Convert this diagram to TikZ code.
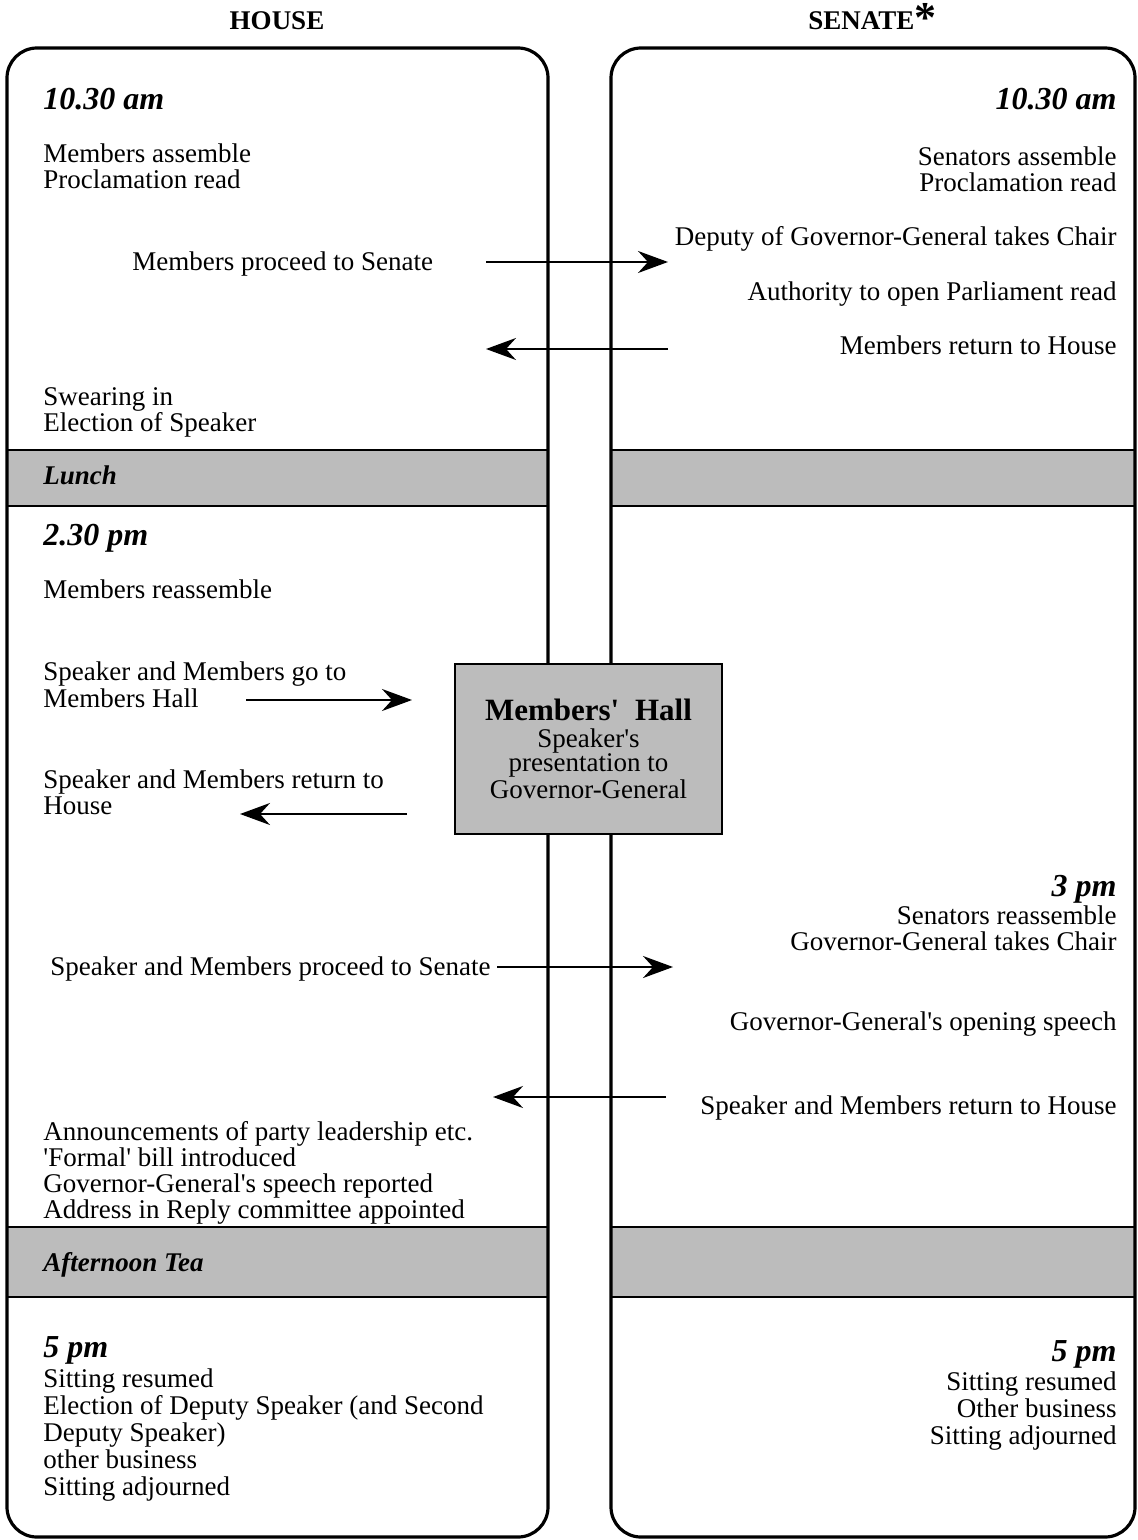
\documentclass[tikz,border=0pt]{standalone}
\usepackage{fontspec}
\setmainfont{Liberation Serif}
\usetikzlibrary{arrows.meta}
\definecolor{bandgray}{RGB}{188,188,188}
\newcommand\ftxt{\fontsize{13.5}{13}\selectfont}
\newcommand\ftim{\fontsize{16}{16}\selectfont\bfseries\itshape}
\newcommand\fband{\fontsize{13.5}{13}\selectfont\bfseries\itshape}
\newcommand\fhead{\fontsize{13.5}{13}\selectfont\bfseries}
\newcommand\apo{\textquotesingle}
\tikzset{
  lt/.style={anchor=base west, inner sep=0pt, font=\ftxt},
  rt/.style={anchor=base east, inner sep=0pt, font=\ftxt},
  tml/.style={anchor=base west, inner sep=0pt, font=\ftim},
  tmr/.style={anchor=base east, inner sep=0pt, font=\ftim},
  bandtxt/.style={anchor=base west, inner sep=0pt, font=\fband},
  band/.style={fill=bandgray, draw=black, line width=1.1pt},
  panel/.style={draw=black, line width=1.6pt, rounded corners=15pt},
  hallbox/.style={draw=black, line width=1.2pt, fill=bandgray, minimum width=133.5pt, minimum height=85pt, inner sep=0pt, align=center, font=\fontsize{13.5}{12}\selectfont},
  arr/.style={line width=1.1pt, -{Stealth[length=15pt,width=11pt,inset=5pt]}},
}
\begin{document}
\begin{tikzpicture}[x=0.5pt,y=-0.5pt]
\useasboundingbox (0,0) rectangle (1138,1540);
\fill[white] (0,0) rectangle (1138,1540);

% headers
\node[anchor=base, inner sep=0pt, font=\fhead] (hhouse) at (277,30) {HOUSE};
\node[anchor=base west, inner sep=0pt, font=\fhead] (hsenate) at (808,30) {SENATE{\fontsize{22}{22}\selectfont\raisebox{-1.5pt}{*}}};

% bands
\draw[band] (7,450) rectangle (548,506);
\draw[band] (611,450) rectangle (1135,506);
\draw[band] (7,1227) rectangle (548,1297);
\draw[band] (611,1227) rectangle (1135,1297);

% panels
\draw[panel] (7,48) rectangle (548,1537);
\draw[panel] (611,48) rectangle (1135,1537);

% Members' Hall
\node[hallbox] (hall) at (588.5,749) {{\fontsize{15.5}{15.5}\selectfont\bfseries Members\apo\hspace{4pt} Hall}\\[1.5pt]Speaker\apo s\\presentation to\\Governor-General};

% band labels
\node[bandtxt] (lunch) at (43,484) {Lunch};
\node[bandtxt] (tea) at (43,1271) {Afternoon Tea};

% HOUSE column
\node[tml] (h1030) at (43,110) {10.30 am};
\node[lt] (hA1) at (43,163) {Members assemble};
\node[lt] (hA2) at (43,189) {Proclamation read};
\node[lt] (hA3) at (132,271) {Members proceed to Senate};
\node[lt] (hA4) at (43,405) {Swearing in};
\node[lt] (hA5) at (43,431) {Election of Speaker};
\node[tml] (h230) at (43,545) {2.30 pm};
\node[lt] (hB1) at (43,598) {Members reassemble};
\node[lt] (hB2) at (43,680) {Speaker and Members go to};
\node[lt] (hB3) at (43,707) {Members Hall};
\node[lt] (hB4) at (43,788) {Speaker and Members return to};
\node[lt] (hB5) at (43,814) {House};
\node[lt] (hB6) at (50,975) {Speaker and Members proceed to Senate};
\node[lt] (hB7) at (43,1140) {Announcements of party leadership etc.};
\node[lt] (hB8) at (43,1166) {\apo Formal\apo\ bill introduced};
\node[lt] (hB9) at (43,1192) {Governor-General\apo s speech reported};
\node[lt] (hB10) at (43,1218) {Address in Reply committee appointed};
\node[tml] (h5) at (43,1357) {5 pm};
\node[lt] (hC1) at (43,1387) {Sitting resumed};
\node[lt] (hC2) at (43,1414) {Election of Deputy Speaker (and Second};
\node[lt] (hC3) at (43,1441) {Deputy Speaker)};
\node[lt] (hC4) at (43,1468) {other business};
\node[lt] (hC5) at (43,1495) {Sitting adjourned};

% SENATE column
\node[tmr] (s1030) at (1117,110) {10.30 am};
\node[rt] (sA1) at (1117,166) {Senators assemble};
\node[rt] (sA2) at (1117,192) {Proclamation read};
\node[rt] (sA3) at (1117,246) {Deputy of Governor-General takes Chair};
\node[rt] (sA4) at (1117,300) {Authority to open Parliament read};
\node[rt] (sA5) at (1117,355) {Members return to House};
\node[tmr] (s3) at (1117,896) {3 pm};
\node[rt] (sB1) at (1117,924) {Senators reassemble};
\node[rt] (sB2) at (1117,950) {Governor-General takes Chair};
\node[rt] (sB3) at (1117,1030) {Governor-General\apo s opening speech};
\node[rt] (sB4) at (1117,1114) {Speaker and Members return to House};
\node[tmr] (s5) at (1117,1361) {5 pm};
\node[rt] (sC1) at (1117,1390) {Sitting resumed};
\node[rt] (sC2) at (1117,1417) {Other business};
\node[rt] (sC3) at (1117,1444) {Sitting adjourned};

% arrow end points
\coordinate (a1s) at (486,262);  \coordinate (a1e) at (668,262);
\coordinate (a2s) at (668,349);  \coordinate (a2e) at (486,349);
\coordinate (a3s) at (246,700);  \coordinate (a3e) at (412,700);
\coordinate (a4s) at (407,814);  \coordinate (a4e) at (240,814);
\coordinate (a5s) at (497,967);  \coordinate (a5e) at (673,967);
\coordinate (a6s) at (666,1097); \coordinate (a6e) at (493,1097);

\draw[arr] (a1s) -- (a1e);
\draw[arr] (a2s) -- (a2e);
\draw[arr] (a3s) -- (a3e);
\draw[arr] (a4s) -- (a4e);
\draw[arr] (a5s) -- (a5e);
\draw[arr] (a6s) -- (a6e);
\end{tikzpicture}
\end{document}
